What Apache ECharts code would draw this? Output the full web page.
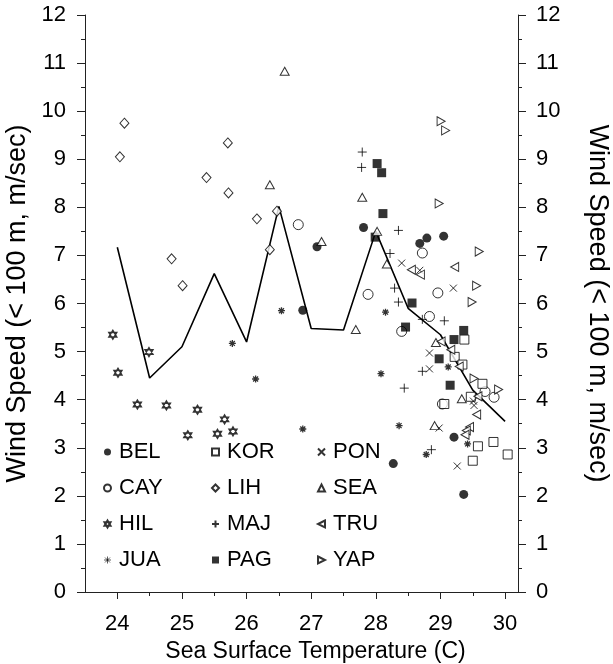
<!DOCTYPE html>
<html>
<head>
<meta charset="utf-8">
<script src="https://cdn.jsdelivr.net/npm/echarts@6/dist/echarts.min.js"></script>
<style>
  html, body { margin: 0; padding: 0; background: #fff; }
  #chart { width: 613px; height: 664px; }
</style>
</head>
<body>
<div id="chart"></div>
<script>
// Wind speed vs. sea surface temperature, one series per station
const BEL = [[27.81,7.58],[28.68,7.25],[28.79,7.36],[29.05,7.40],[28.27,2.67],[29.21,3.22],[29.36,2.03],[27.09,7.18],[26.87,5.86]];
const CAY = [[26.80,7.64],[28.72,7.05],[28.96,6.22],[27.88,6.19],[28.83,5.73],[28.40,5.42],[29.03,3.91],[29.69,4.17],[29.83,4.05]];
const HIL = [[23.93,5.35],[24.01,4.56],[24.49,4.99],[24.31,3.90],[24.76,3.88],[25.24,3.79],[25.66,3.59],[25.09,3.26],[25.55,3.29],[25.79,3.34]];
const JUA = [[25.78,5.17],[26.14,4.43],[26.54,5.85],[26.87,3.39],[28.15,5.82],[28.08,4.54],[28.36,3.46],[29.12,4.68],[29.42,3.08],[28.78,2.86]];
const KOR = [[29.37,5.25],[29.22,4.89],[29.34,4.73],[29.65,4.33],[29.47,4.06],[29.06,3.91],[29.58,3.03],[29.82,3.12],[30.04,2.86],[29.50,2.73]];
const LIH = [[24.11,9.75],[24.04,9.05],[25.38,8.62],[25.71,9.34],[25.72,8.30],[26.16,7.76],[24.84,6.93],[25.01,6.37],[26.36,7.12],[26.47,7.92]];
const MAJ = [[27.79,9.15],[27.78,8.83],[28.35,7.52],[28.22,7.04],[28.29,6.32],[28.35,6.03],[28.72,5.67],[29.06,5.64],[28.72,4.59],[28.44,4.24],[28.86,2.96]];
const PAG = [[28.02,8.91],[28.09,8.72],[28.11,7.87],[27.99,7.38],[28.56,6.01],[28.46,5.51],[29.36,5.44],[29.21,5.25],[28.98,4.85],[29.15,4.30]];
const PON = [[28.40,6.84],[28.68,6.69],[29.20,6.32],[28.83,4.97],[28.83,4.64],[29.51,3.97],[29.52,3.88],[28.98,3.41],[29.26,2.62]];
const SEA = [[26.59,10.83],[26.36,8.47],[27.16,7.29],[27.79,8.21],[28.02,7.50],[28.17,6.82],[27.69,5.46],[28.93,5.19],[29.33,4.02],[28.91,3.46]];
const TRU = [[28.55,6.70],[28.69,6.60],[29.22,6.76],[29.01,5.21],[29.16,5.04],[29.29,4.69],[29.58,4.07],[29.56,3.69],[29.45,3.43],[29.40,3.36],[29.38,3.27]];
const YAP = [[29.01,9.79],[29.08,9.60],[28.98,8.08],[29.60,7.08],[29.56,6.37],[29.49,6.03],[29.52,4.44],[29.90,4.21]];

// Binned mean wind speed
const meanSST   = [24, 24.5, 25, 25.5, 26, 26.5, 27, 27.5, 28, 28.5, 29, 29.5, 30];
const meanWind  = [7.17, 4.45, 5.1, 6.62, 5.2, 8.02, 5.48, 5.45, 7.5, 5.9, 5.35, 4.2, 3.55];

const xTickLabels = [24, 25, 26, 27, 28, 29, 30];
const xHalfTicks  = [24.5, 25.5, 26.5, 27.5, 28.5, 29.5];

const FONT = 'Liberation Sans';
const FS = 22;        // tick labels and legend
const FS_X = 23;      // x axis title
const FS_Y = 27;      // y axis titles
const INK = '#000';
const AXIS = '#222';

const P = {
  hexagram: 'path://M0,-10L8.66,5L-8.66,5ZM0,10L8.66,-5L-8.66,-5Z',
  asterisk: 'path://M0,-10L0,10M-10,0L10,0M-7.07,-7.07L7.07,7.07M-7.07,7.07L7.07,-7.07',
  plus: 'path://M-10,0L10,0M0,-10L0,10',
  cross: 'path://M-10,-10L10,10M-10,10L10,-10',
  triLeft: 'path://M10,0L0,5L10,10Z',
  triRight: 'path://M0,0L10,5L0,10Z'
};

const hollow = { color: '#fff', borderColor: INK, borderWidth: 1 };
const solid = { color: INK, borderColor: INK, borderWidth: 0 };
const strokeOnly = { color: 'rgba(0,0,0,0)', borderColor: INK, borderWidth: 1 };

const stations = [
  { name: 'BEL', data: BEL, symbol: 'circle', size: 9, style: solid },
  { name: 'CAY', data: CAY, symbol: 'circle', size: 10, style: hollow },
  { name: 'HIL', data: HIL, symbol: P.hexagram, size: [8, 9], style: { color: '#fff', borderColor: INK, borderWidth: 1.4 } },
  { name: 'JUA', data: JUA, symbol: P.asterisk, size: 7, style: { color: 'rgba(0,0,0,0)', borderColor: INK, borderWidth: 1.3 }, legendStyle: { borderWidth: 0.8 } },
  { name: 'KOR', data: KOR, symbol: 'rect', size: 9, style: hollow },
  { name: 'LIH', data: LIH, symbol: 'diamond', size: [9, 10], style: hollow },
  { name: 'MAJ', data: MAJ, symbol: P.plus, size: 9, style: strokeOnly },
  { name: 'PAG', data: PAG, symbol: 'rect', size: 9, style: solid },
  { name: 'PON', data: PON, symbol: P.cross, size: 7, style: strokeOnly },
  { name: 'SEA', data: SEA, symbol: 'triangle', size: [9, 8], style: hollow },
  { name: 'TRU', data: TRU, symbol: P.triLeft, size: [8, 9], style: hollow },
  { name: 'YAP', data: YAP, symbol: P.triRight, size: [8, 9], style: hollow }
];

const scatterSeries = stations.map(s => ({
  name: s.name,
  type: 'scatter',
  data: s.data,
  symbol: s.symbol,
  symbolSize: s.size,
  itemStyle: s.style,
  emphasis: { disabled: true },
  z: 3
}));

const lineSeries = {
  name: 'mean',
  type: 'line',
  data: meanSST.map((x, i) => [x, meanWind[i]]),
  showSymbol: false,
  symbol: 'none',
  lineStyle: { color: INK, width: 1.6 },
  z: 2,
  silent: true
};

function legendColumn(names, left) {
  return {
    orient: 'vertical',
    left: left,
    top: 435,
    itemWidth: 7,
    itemHeight: 7,
    itemGap: 12,
    selectedMode: false,
    data: names.map(n => {
      const s = stations.find(st => st.name === n);
      const item = { name: n, icon: s.symbol };
      if (s.legendStyle) item.itemStyle = s.legendStyle;
      return item;
    }),
    textStyle: { fontFamily: FONT, fontSize: FS, color: INK, lineHeight: 24, padding: [0, 0, 0, 3] }
  };
}

const yCommon = {
  type: 'value',
  min: 0,
  max: 12,
  interval: 1,
  splitLine: { show: false },
  axisLine: { show: true, lineStyle: { color: AXIS, width: 1 } },
  axisTick: { show: true, length: 8, lineStyle: { color: AXIS } },
  minorTick: { show: true, splitNumber: 2, length: 4, lineStyle: { color: AXIS } },
  nameLocation: 'middle',
  nameTextStyle: { fontFamily: FONT, fontSize: FS_Y, color: INK },
  name: 'Wind Speed (< 100 m, m/sec)'
};

const option = {
  backgroundColor: '#fff',
  animation: false,
  textStyle: { fontFamily: FONT },
  grid: { left: 85, right: 95, top: 15, bottom: 72, containLabel: false, outerBoundsMode: 'none' },
  xAxis: [
    {
      type: 'value',
      min: 23.5,
      max: 30.2,
      name: 'Sea Surface Temperature (C)',
      nameLocation: 'middle',
      nameGap: 46,
      nameTextStyle: { fontFamily: FONT, fontSize: FS_X, color: INK, padding: [0, 0, 0, 28] },
      splitLine: { show: false },
      axisLine: { show: true, onZero: false, lineStyle: { color: AXIS, width: 1 } },
      axisTick: { show: true, length: 7, customValues: xTickLabels, lineStyle: { color: AXIS } },
      axisLabel: { customValues: xTickLabels, margin: 21, fontFamily: FONT, fontSize: FS, color: INK }
    },
    {
      type: 'value',
      min: 23.5,
      max: 30.2,
      position: 'bottom',
      splitLine: { show: false },
      axisLine: { show: false },
      axisTick: { show: true, length: 4, customValues: xHalfTicks, lineStyle: { color: AXIS } },
      axisLabel: { show: false }
    }
  ],
  yAxis: [
    Object.assign({}, yCommon, {
      position: 'left',
      nameGap: 46,
      nameRotate: 90,
      axisLabel: { margin: 19, fontFamily: FONT, fontSize: FS, color: INK }
    }),
    Object.assign({}, yCommon, {
      position: 'right',
      nameGap: 66,
      nameRotate: -90,
      axisLabel: { margin: 18, fontFamily: FONT, fontSize: FS, color: INK }
    })
  ],
  legend: [
    legendColumn(['BEL', 'CAY', 'HIL', 'JUA'], 98),
    legendColumn(['KOR', 'LIH', 'MAJ', 'PAG'], 206),
    legendColumn(['PON', 'SEA', 'TRU', 'YAP'], 312)
  ],
  series: [lineSeries].concat(scatterSeries)
};

const chart = echarts.init(document.getElementById('chart'), null, { renderer: 'canvas' });
chart.setOption(option);
</script>
</body>
</html>
